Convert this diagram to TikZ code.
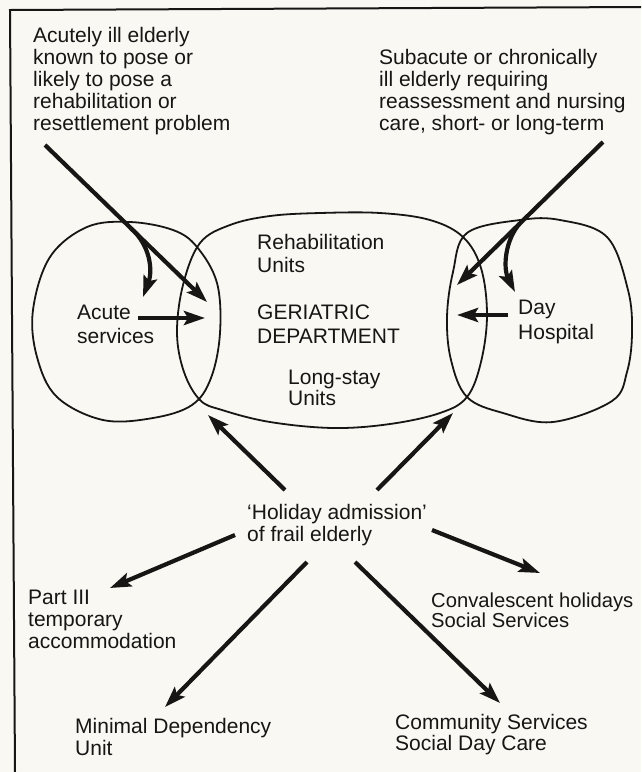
\documentclass[tikz,border=0pt]{standalone}
\usepackage{fontspec}
\setmainfont{Liberation Sans}
\usetikzlibrary{arrows.meta, calc}
\definecolor{paper}{RGB}{250,248,243}
\definecolor{ink}{RGB}{24,22,20}

\begin{document}
\begin{tikzpicture}[x=1pt, y=-1pt,
  txt/.style={anchor=base west, align=left, inner sep=0pt, text=ink, font=\fontsize{21}{22}\selectfont},
  flow/.style={draw=ink, line width=4.2pt, -{Stealth[length=21pt, width=14pt, inset=4pt]}},
  zone/.style={draw=ink, line width=1.8pt}]
\useasboundingbox (0,0) rectangle (641,772);
\fill[paper] (0,0) rectangle (641,772);
\draw[ink, line width=2pt] (641,7) -- (10,10) -- (15,772);

% zones
\draw[zone] plot[smooth cycle, tension=0.6] coordinates {(130,222) (173,230) (197,247) (217,283) (220,333) (211,378) (192,405) (153,418) (103,420) (57,397) (37,357) (33,310) (50,257) (87,227)};
\draw[zone] plot[smooth cycle, tension=0.6] coordinates {(200,243) (230,225) (270,216) (320,213) (380,213) (430,220) (463,237) (481,268) (487,315) (481,362) (467,397) (440,413) (390,424) (333,428) (270,422) (222,410) (200,400) (184,372) (177,333) (183,285)};
\draw[zone] plot[smooth cycle, tension=0.6] coordinates {(467,233) (520,220) (560,220) (607,237) (628,290) (632,333) (627,372) (612,401) (553,422) (503,413) (467,397) (451,360) (447,317) (453,272)};

% texts (placed by the baseline of their last line)
\node[txt] (acutein) at (33,130) {Acutely ill elderly\\known to pose or\\likely to pose a\\rehabilitation or\\resettlement problem};
\node[txt] (subin) at (379,130) {Subacute or chronically\\ill elderly requiring\\reassessment and nursing\\care, short- or long-term};
\node[txt, font=\fontsize{21}{24}\selectfont] (acute) at (77,343) {Acute\\services};
\node[txt, font=\fontsize{21}{23}\selectfont] (rehab) at (257,272) {Rehabilitation\\Units};
\node[txt, font=\fontsize{21}{24}\selectfont] (geri) at (257,343) {GERIATRIC\\DEPARTMENT};
\node[txt, font=\fontsize{21}{21}\selectfont] (longstay) at (288,405) {Long-stay\\Units};
\node[txt, font=\fontsize{21}{25}\selectfont] (dayhosp) at (518,339) {Day\\Hospital};
\node[txt] (holiday) at (247,541) {`Holiday admission'\\of frail elderly};
\node[txt] (part3) at (28,648) {Part III\\temporary\\accommodation};
\node[txt] (mindep) at (75,755) {Minimal Dependency\\Unit};
\node[txt, font=\fontsize{20.2}{20}\selectfont] (conval) at (431,627) {Convalescent holidays\\Social Services};
\node[txt, font=\fontsize{21}{21}\selectfont] (commun) at (395,750) {Community Services\\Social Day Care};

% arrow ends
\coordinate (a1s) at (45,145);
\coordinate (a1t) at (207,302);
\coordinate (a1b) at ($(a1s)!0.53!(a1t)$);
\coordinate (a1c) at (143,297);
\coordinate (a2s) at (603,142);
\coordinate (a2t) at (457,285);
\coordinate (a2b) at ($(a2s)!0.57!(a2t)$);
\coordinate (a2c) at (515,292);
\coordinate (acs) at (138,318);
\coordinate (act) at (205,318);
\coordinate (dhs) at (508,315);
\coordinate (dht) at (457,315);
\coordinate (hol1) at (285,490);
\coordinate (hol2) at (377,490);
\coordinate (hol3) at (235,535);
\coordinate (hol4) at (307,562);
\coordinate (hol5) at (355,562);
\coordinate (hol6) at (432,530);
\coordinate (geril) at (208,415);
\coordinate (gerir) at (453,413);
\coordinate (p3t) at (110,588);
\coordinate (mdt) at (165,707);
\coordinate (cst) at (500,703);
\coordinate (cvt) at (540,573);

% arrows
\draw[flow] (a1s) -- (a1t);
\draw[flow] (a1b) .. controls (150,245) and (153,270) .. (a1c);
\draw[flow] (a2s) -- (a2t);
\draw[flow] (a2b) .. controls (505,240) and (503,268) .. (a2c);
\draw[flow] (acs) -- (act);
\draw[flow] (dhs) -- (dht);
\draw[flow] (hol1) -- (geril);
\draw[flow] (hol2) -- (gerir);
\draw[flow] (hol3) -- (p3t);
\draw[flow] (hol4) -- (mdt);
\draw[flow] (hol5) -- (cst);
\draw[flow] (hol6) -- (cvt);
\end{tikzpicture}
\end{document}
